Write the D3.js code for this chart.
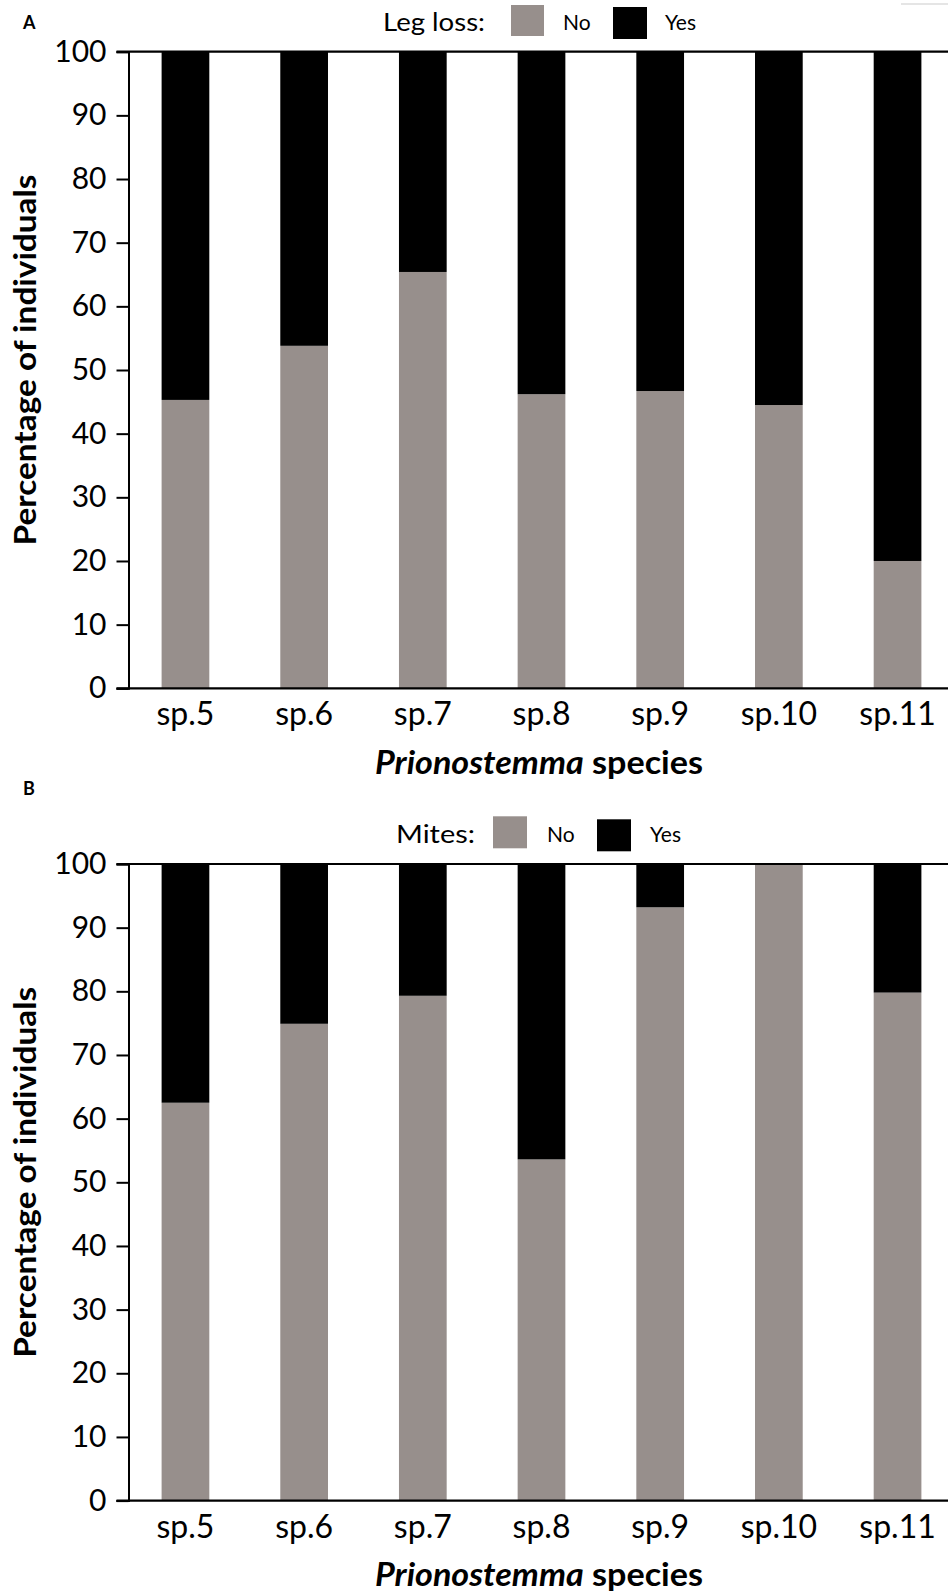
<!DOCTYPE html>
<html><head><meta charset="utf-8">
<script src="https://cdn.jsdelivr.net/npm/d3@7"></script>
<style>body{margin:0;background:#fff}svg{display:block}text{font-family:Lato,"Open Sans",sans-serif;fill:#000}</style>
</head><body>
<script>
const species = ["sp.5","sp.6","sp.7","sp.8","sp.9","sp.10","sp.11"];
const legLossNo  = [45.3, 53.8, 65.4, 46.2, 46.7, 44.5, 20.0];
const legLossYes = [54.7, 46.2, 34.6, 53.8, 53.3, 55.5, 80.0];
const mitesNo  = [62.5, 74.9, 79.3, 53.6, 93.2, 100, 79.8];
const mitesYes = [37.5, 25.1, 20.7, 46.4, 6.8, 0, 20.2];
const yTicks = [0,10,20,30,40,50,60,70,80,90,100];
const legendKeys = ["No","Yes"];
const colors = {No:"#978f8c", Yes:"#000000"};

const W = 948, H = 1595;
const svg = d3.select("body").append("svg").attr("width",W).attr("height",H);

// artifact line top right
svg.append("line").attr("x1",901).attr("x2",948).attr("y1",4).attr("y2",4).attr("stroke","#ddd").attr("stroke-width",1.5);

const x = d3.scaleBand().domain(species).range([126,957]).paddingInner(0.598).paddingOuter(0.3);

function panel(off, legendTitle, noVals, yesVals, legendTitleX, legendTitleW){
  const g = svg.append("g").attr("transform",`translate(0,${off})`);
  const y = d3.scaleLinear().domain([0,100]).range([688.3,51.7]);
  const rows = species.map((s,i)=>({sp:s, No:noVals[i], Yes:yesVals[i]}));
  const stacked = d3.stack().keys(legendKeys)(rows);
  g.selectAll("g.layer").data(stacked).join("g").attr("fill",d=>colors[d.key])
    .selectAll("rect").data(d=>d).join("rect")
    .attr("x",d=>x(d.data.sp)).attr("width",x.bandwidth())
    .attr("y",d=>y(d[1])).attr("height",d=>y(d[0])-y(d[1]));

  // y axis
  const ya = g.append("g").attr("transform","translate(128.5,0)")
    .call(d3.axisLeft(y).tickValues(yTicks).tickSize(12).tickPadding(10));
  ya.select(".domain").attr("stroke","#000").attr("stroke-width",2);
  ya.selectAll(".tick line").attr("stroke","#000").attr("stroke-width",2);
  ya.selectAll(".tick text").attr("font-size",30).attr("font-family","Lato").attr("fill","#000");

  // frame lines at 0 and 100
  [0,100].forEach(v=>{
    g.append("line").attr("x1",116.5).attr("x2",948).attr("y1",y(v)).attr("y2",y(v))
      .attr("stroke","#000").attr("stroke-width",2.2);
  });

  // x axis labels
  const xa = g.append("g").attr("transform",`translate(0,${y(0)})`)
    .call(d3.axisBottom(x).tickSize(0).tickPadding(10));
  xa.select(".domain").remove();
  xa.selectAll(".tick text").attr("font-size",32).attr("font-family","Lato").attr("fill","#000")
    .attr("dy",null).attr("y",37);

  // y title
  g.append("text").attr("transform","translate(36,360) rotate(-90)")
    .attr("text-anchor","middle").attr("font-weight","bold").attr("font-size",31)
    .attr("textLength",371).attr("lengthAdjust","spacingAndGlyphs")
    .text("Percentage of individuals");

  // x title
  const xt = g.append("text").attr("x",539).attr("y",774).attr("text-anchor","middle")
    .attr("font-weight","bold").attr("font-size",32)
    .attr("textLength",328).attr("lengthAdjust","spacingAndGlyphs");
  xt.append("tspan").attr("font-style","italic").text("Prionostemma");
  xt.append("tspan").text(" species");

  // legend
  const lg = g.append("g");
  lg.append("text").attr("x",legendTitleX).attr("y",31).attr("font-size",25)
    .attr("textLength",legendTitleW).attr("lengthAdjust","spacingAndGlyphs").text(legendTitle);
  return {g,y,lg};
}

const A = panel(0, "Leg loss:", legLossNo, legLossYes, 383, 102);
A.lg.append("rect").attr("x",511).attr("y",5).attr("width",33).attr("height",31).attr("fill",colors.No);
A.lg.append("text").attr("x",563).attr("y",30).attr("font-size",21).text("No");
A.lg.append("rect").attr("x",613).attr("y",7).attr("width",34).attr("height",32).attr("fill",colors.Yes);
A.lg.append("text").attr("x",665).attr("y",30).attr("font-size",21).text("Yes");

const B = panel(812.3, "Mites:", mitesNo, mitesYes, 396, 79);
B.lg.append("rect").attr("x",493).attr("y",4).attr("width",34).attr("height",32).attr("fill",colors.No);
B.lg.append("text").attr("x",547).attr("y",30).attr("font-size",21).text("No");
B.lg.append("rect").attr("x",597).attr("y",7).attr("width",34).attr("height",32).attr("fill",colors.Yes);
B.lg.append("text").attr("x",650).attr("y",30).attr("font-size",21).text("Yes");

svg.append("text").attr("x",23).attr("y",29).attr("font-weight","bold").attr("font-size",18).text("A");
svg.append("text").attr("x",23).attr("y",795).attr("font-weight","bold").attr("font-size",18).text("B");
</script>
</body></html>
